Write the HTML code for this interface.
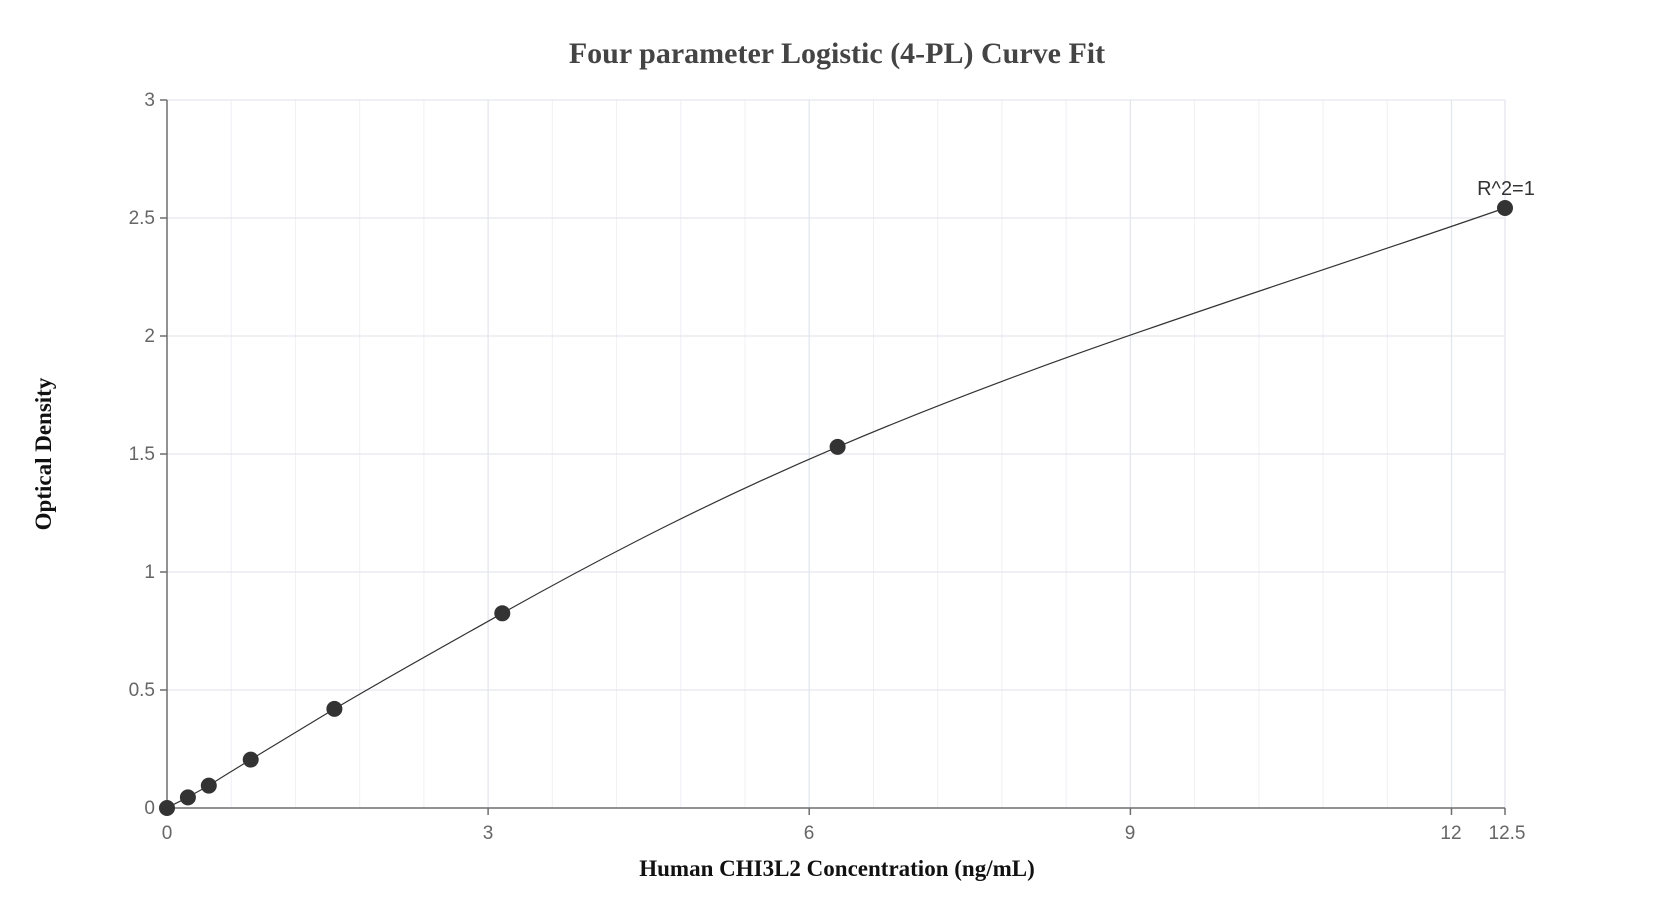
<!DOCTYPE html>
<html><head><meta charset="utf-8"><style>body{margin:0;background:#fff}svg{display:block}</style></head><body>
<svg width="1673" height="924" xmlns="http://www.w3.org/2000/svg">
<rect width="1673" height="924" fill="#fff"/>
<g stroke="#f0f0f4" stroke-width="1">
<line x1="231.2" y1="100" x2="231.2" y2="808"/><line x1="295.4" y1="100" x2="295.4" y2="808"/><line x1="359.7" y1="100" x2="359.7" y2="808"/><line x1="423.9" y1="100" x2="423.9" y2="808"/>
<line x1="552.3" y1="100" x2="552.3" y2="808"/><line x1="616.6" y1="100" x2="616.6" y2="808"/><line x1="680.8" y1="100" x2="680.8" y2="808"/><line x1="745" y1="100" x2="745" y2="808"/>
<line x1="873.5" y1="100" x2="873.5" y2="808"/><line x1="937.7" y1="100" x2="937.7" y2="808"/><line x1="1001.9" y1="100" x2="1001.9" y2="808"/><line x1="1066.2" y1="100" x2="1066.2" y2="808"/>
<line x1="1194.6" y1="100" x2="1194.6" y2="808"/><line x1="1258.9" y1="100" x2="1258.9" y2="808"/><line x1="1323.1" y1="100" x2="1323.1" y2="808"/><line x1="1387.3" y1="100" x2="1387.3" y2="808"/>
</g>
<g stroke="#e3e6ee" stroke-width="1.3">
<line x1="488.1" y1="100" x2="488.1" y2="808"/><line x1="809.2" y1="100" x2="809.2" y2="808"/><line x1="1130.4" y1="100" x2="1130.4" y2="808"/><line x1="1451.5" y1="100" x2="1451.5" y2="808"/><line x1="1505" y1="100" x2="1505" y2="808"/>
<line x1="167" y1="100" x2="1505" y2="100"/><line x1="167" y1="218" x2="1505" y2="218"/><line x1="167" y1="336" x2="1505" y2="336"/><line x1="167" y1="454" x2="1505" y2="454"/><line x1="167" y1="572" x2="1505" y2="572"/><line x1="167" y1="690" x2="1505" y2="690"/>
</g>
<g stroke="#6e6e6e" stroke-width="1.5">
<line x1="167" y1="100" x2="167" y2="809"/><line x1="166" y1="808" x2="1505" y2="808"/>
<line x1="160" y1="100" x2="167" y2="100"/><line x1="160" y1="218" x2="167" y2="218"/><line x1="160" y1="336" x2="167" y2="336"/><line x1="160" y1="454" x2="167" y2="454"/><line x1="160" y1="572" x2="167" y2="572"/><line x1="160" y1="690" x2="167" y2="690"/><line x1="160" y1="808" x2="167" y2="808"/>
<line x1="167" y1="808" x2="167" y2="815"/><line x1="488.1" y1="808" x2="488.1" y2="815"/><line x1="809.2" y1="808" x2="809.2" y2="815"/><line x1="1130.4" y1="808" x2="1130.4" y2="815"/><line x1="1451.5" y1="808" x2="1451.5" y2="815"/><line x1="1505" y1="808" x2="1505" y2="815"/>
</g>
<g font-family="Liberation Sans, sans-serif" font-size="19" fill="#666" text-anchor="end">
<text x="155" y="106">3</text><text x="155" y="224">2.5</text><text x="155" y="342">2</text><text x="155" y="460">1.5</text><text x="155" y="578">1</text><text x="155" y="696">0.5</text><text x="155" y="814">0</text>
</g>
<g font-family="Liberation Sans, sans-serif" font-size="19" fill="#666" text-anchor="middle">
<text x="167" y="839">0</text><text x="488" y="839">3</text><text x="809" y="839">6</text><text x="1130" y="839">9</text><text x="1451" y="839">12</text><text x="1507" y="839">12.5</text>
</g>
<path d="M167,808 C174,804 181,801 187.9,797.4 C195,793 202,789.5 208.8,785.6 C222,777 237,768 250.7,759.6 C278,743 306,726 334.4,708.9 C390,676 446,645 502.3,613.3 C613,551 720,497 837.6,446.9 C1060,352 1284,285 1505,208" fill="none" stroke="#333" stroke-width="1.2"/>
<g fill="#333">
<circle cx="167" cy="808" r="8"/><circle cx="187.9" cy="797.4" r="8"/><circle cx="208.8" cy="785.6" r="8"/><circle cx="250.7" cy="759.6" r="8"/><circle cx="334.4" cy="708.9" r="8"/><circle cx="502.3" cy="613.3" r="8"/><circle cx="837.6" cy="446.9" r="8"/><circle cx="1505" cy="208" r="8"/>
</g>
<text x="1506" y="195" font-family="Liberation Sans, sans-serif" font-size="20" fill="#333" text-anchor="middle">R^2=1</text>
<text x="837" y="63" font-family="Liberation Serif, serif" font-weight="bold" font-size="30" fill="#444" text-anchor="middle">Four parameter Logistic (4-PL) Curve Fit</text>
<text x="837" y="876" font-family="Liberation Serif, serif" font-weight="bold" font-size="23" fill="#111" text-anchor="middle">Human CHI3L2 Concentration (ng/mL)</text>
<text transform="translate(51,454) rotate(-90)" font-family="Liberation Serif, serif" font-weight="bold" font-size="23" fill="#111" text-anchor="middle">Optical Density</text>
</svg>
</body></html>
